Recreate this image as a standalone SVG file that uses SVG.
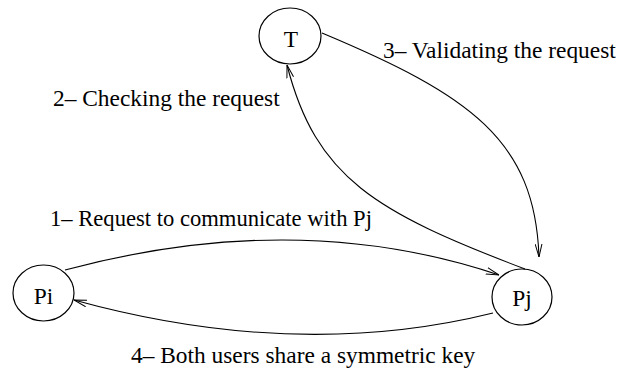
<svg xmlns="http://www.w3.org/2000/svg" width="631" height="376" viewBox="0 0 631 376">
<style>
.node{fill:none;stroke:#000;stroke-width:1.2}
.edge{fill:none;stroke:#000;stroke-width:1.1}
text{font-family:"Liberation Serif","Times New Roman",serif;font-size:23.4px;fill:#000}
.c{text-anchor:middle}
</style>
<defs>
<marker id="arr" viewBox="0 0 13 8" refX="13" refY="4" markerWidth="13" markerHeight="8" markerUnits="userSpaceOnUse" orient="auto">
<path d="M0,0.6 L13,4 L0,7.4" fill="none" stroke="#000" stroke-width="1"/>
</marker>
</defs>
<g id="T"><ellipse class="node" cx="290" cy="36" rx="31" ry="28"/><text class="c" x="291" y="47">T</text></g>
<g id="Pi"><ellipse class="node" cx="43.5" cy="293" rx="30.5" ry="28"/><text class="c" x="43.5" y="304">Pi</text></g>
<g id="Pj"><ellipse class="node" cx="522" cy="297" rx="30" ry="28"/><text class="c" x="522" y="306">Pj</text></g>
<g id="connectors">
<path class="edge" d="M65,270 Q298.5,207.5 499,275" marker-end="url(#arr)"/>
<path class="edge" d="M493,313 Q297,361.5 74,300" marker-end="url(#arr)"/>
<path class="edge" d="M525,269 C375,212 316,178 287,65" marker-end="url(#arr)"/>
<path class="edge" d="M322,33 C470,95 535,140 539,257" marker-end="url(#arr)"/>
</g>
<g id="labels">
<text x="383" y="58">3– Validating the request</text>
<text x="53" y="106">2– Checking the request</text>
<text x="50" y="226" style="font-size:22.6px">1– Request to communicate with Pj</text>
<text x="131" y="363">4– Both users share a symmetric key</text>
</g>
</svg>
